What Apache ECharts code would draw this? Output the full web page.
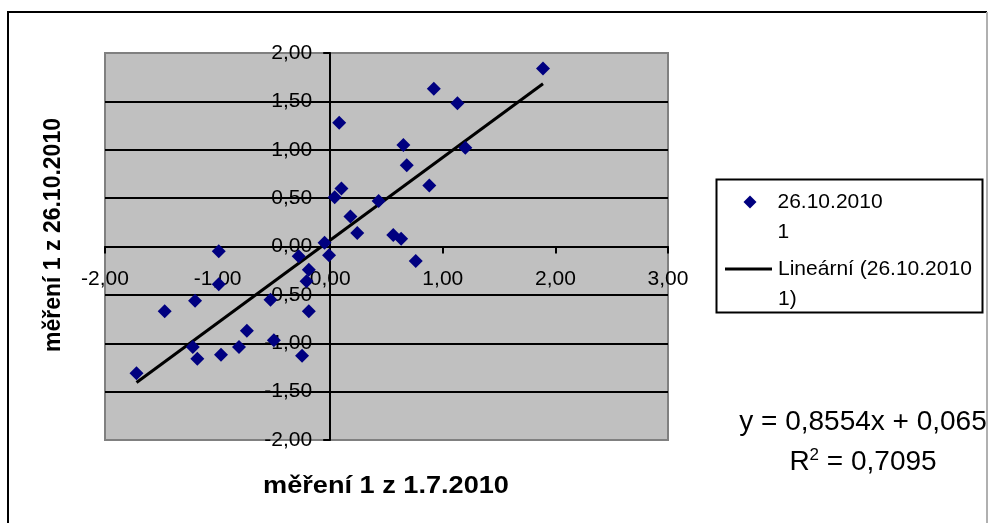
<!DOCTYPE html>
<html>
<head>
<meta charset="utf-8">
<title>měření 1</title>
<script src="https://cdn.jsdelivr.net/npm/echarts@6.0.0/dist/echarts.min.js"></script>
<style>
  html, body { margin: 0; padding: 0; background: #fff; }
  #chart { width: 992px; height: 523px; }
</style>
</head>
<body>
<div id="chart"></div>
<script>
// Measurement 1 taken on 1.7.2010 (x) against the repeat on 26.10.2010 (y)
const measJuly = [
  -1.72, -1.47, -1.22, -1.20, -1.18, -0.99, -0.99, -0.97, -0.81, -0.74,
  -0.53, -0.50, -0.28, -0.25, -0.21, -0.19, -0.19, -0.05, -0.01, 0.04,
  0.08, 0.10, 0.18, 0.24, 0.43, 0.56, 0.63, 0.65, 0.68, 0.76,
  0.88, 0.92, 1.13, 1.20, 1.89
];
const measOctober = [
  -1.31, -0.67, -1.04, -0.56, -1.16, -0.05, -0.39, -1.12, -1.04, -0.87,
  -0.55, -0.97, -0.10, -1.13, -0.36, -0.24, -0.67, 0.04, -0.09, 0.51,
  1.28, 0.60, 0.31, 0.14, 0.47, 0.12, 0.08, 1.05, 0.84, -0.15,
  0.63, 1.63, 1.48, 1.02, 1.84
];

// Linear trend as stated in the equation label
const trendSlope = 0.8554;
const trendIntercept = 0.065;
const trendR2 = 0.7095;

// Axis ranges
const xRange = [-2, 3, 1];     // min, max, step
const yRange = [-2, 2, 0.5];

const seriesName = '26.10.2010\n1';
const trendName = 'Lineární (26.10.2010\n1)';
const xTitle = 'měření 1 z 1.7.2010';
const yTitle = 'měření 1 z 26.10.2010';

const fmt = v => v.toFixed(2).replace('.', ',');
const fmtCoef = (v, d) => v.toFixed(d).replace('.', ',');

const points = measJuly.map((x, i) => [x, measOctober[i]]);
const xMin = Math.min(...measJuly);
const xMax = Math.max(...measJuly);
const trendLine = [xMin, xMax].map(x => [x, trendSlope * x + trendIntercept]);

const FONT = '"Liberation Sans", Arial, sans-serif';

// Plot area
const G = { left: 105, top: 53, width: 563, height: 387 };
// Both axes cross at zero: shift each axis (line, ticks and labels) onto the zero line
const yAxisShift = G.width * (0 - xRange[0]) / (xRange[1] - xRange[0]);
const xAxisShift = G.height * (0 - yRange[0]) / (yRange[1] - yRange[0]);

const chart = echarts.init(document.getElementById('chart'), null, { renderer: 'canvas' });

chart.setOption({
  animation: false,
  backgroundColor: '#ffffff',
  textStyle: { fontFamily: FONT, color: '#000' },
  grid: {
    left: G.left, top: G.top, width: G.width, height: G.height,
    show: true,
    backgroundColor: '#c0c0c0',
    borderColor: '#808080',
    borderWidth: 2,
    outerBoundsMode: 'none',
    containLabel: false
  },
  xAxis: {
    type: 'value',
    min: xRange[0], max: xRange[1], interval: xRange[2],
    position: 'bottom',
    offset: -xAxisShift,
    axisLine: { show: true, onZero: false, lineStyle: { color: '#000', width: 2 } },
    axisTick: { show: true, length: 7, lineStyle: { color: '#000', width: 2 } },
    axisLabel: {
      show: true, margin: 22, fontSize: 21, color: '#000', fontFamily: FONT,
      formatter: fmt, showMinLabel: true, showMaxLabel: true, hideOverlap: false
    },
    splitLine: { show: false }
  },
  yAxis: {
    type: 'value',
    min: yRange[0], max: yRange[1], interval: yRange[2],
    position: 'left',
    offset: -yAxisShift,
    axisLine: { show: true, onZero: false, lineStyle: { color: '#000', width: 2 } },
    axisTick: { show: true, length: 7, lineStyle: { color: '#000', width: 2 } },
    axisLabel: {
      show: true, margin: 18, fontSize: 21, color: '#000', fontFamily: FONT,
      formatter: fmt, showMinLabel: true, showMaxLabel: true, hideOverlap: false
    },
    splitLine: {
      show: true, showMinLine: false, showMaxLine: false,
      lineStyle: { color: '#000', width: 2 }
    }
  },
  legend: [
    {
      data: [seriesName],
      left: 743.5, top: 157,
      orient: 'vertical',
      padding: 0,
      icon: 'diamond',
      itemWidth: 13, itemHeight: 13,
      selectedMode: false,
      z: 10,
      formatter: name => '\n' + name,
      itemStyle: { color: '#000080', opacity: 1 },
      textStyle: { fontSize: 21, lineHeight: 30, color: '#000', fontFamily: FONT, padding: [0, 0, 0, 16] }
    },
    {
      data: [trendName],
      left: 725, top: 224,
      orient: 'vertical',
      padding: 0,
      icon: 'rect',
      itemWidth: 47, itemHeight: 3,
      selectedMode: false,
      z: 10,
      formatter: name => '\n' + name,
      textStyle: { fontSize: 21, lineHeight: 30, color: '#000', fontFamily: FONT, padding: [0, 0, 0, 1] }
    }
  ],
  series: [
    {
      name: trendName,
      type: 'line',
      data: trendLine,
      symbol: 'none',
      itemStyle: { color: '#000' },
      lineStyle: { color: '#000', width: 3 },
      z: 3,
      silent: true
    },
    {
      name: seriesName,
      type: 'scatter',
      data: points,
      symbol: 'diamond',
      symbolSize: 14,
      itemStyle: { color: '#000080', opacity: 1 },
      z: 4
    }
  ],
  graphic: [
    {
      type: 'polyline', z: -1, silent: true,
      shape: { points: [[8, 523], [8, 12], [987, 12]] },
      style: { fill: 'none', stroke: '#000', lineWidth: 2 }
    },
    {
      type: 'line', z: -1, silent: true,
      shape: { x1: 987, y1: 12, x2: 987, y2: 523 },
      style: { stroke: '#b0b0b0', lineWidth: 2 }
    },
    {
      type: 'rect', z: 1, silent: true,
      shape: { x: 716.5, y: 179.5, width: 266, height: 133 },
      style: { fill: '#fff', stroke: '#000', lineWidth: 2 }
    },
    {
      type: 'text', z: 2, silent: true,
      x: 386, y: 487, scaleX: 1.18,
      style: {
        text: xTitle, font: 'bold 23px ' + FONT, fill: '#000',
        align: 'center', verticalAlign: 'middle'
      }
    },
    {
      type: 'text', z: 2, silent: true,
      x: 54, y: 235, rotation: Math.PI / 2,
      style: {
        text: yTitle, font: 'bold 23px ' + FONT, fill: '#000',
        align: 'center', verticalAlign: 'middle'
      }
    },
    {
      type: 'text', z: 2, silent: true,
      x: 863, y: 422,
      style: {
        text: 'y = ' + fmtCoef(trendSlope, 4) + 'x + ' + fmtCoef(trendIntercept, 3),
        font: '28px ' + FONT, fill: '#000',
        align: 'center', verticalAlign: 'middle'
      }
    },
    {
      type: 'text', z: 2, silent: true,
      x: 863, y: 462,
      style: {
        text: 'R{sup|2} = ' + fmtCoef(trendR2, 4),
        font: '28px ' + FONT, fill: '#000',
        align: 'center', verticalAlign: 'middle',
        rich: {
          sup: { fontSize: 17, fontFamily: FONT, fill: '#000', padding: [0, 0, 14, 0] }
        }
      }
    }
  ]
});
</script>
</body>
</html>
